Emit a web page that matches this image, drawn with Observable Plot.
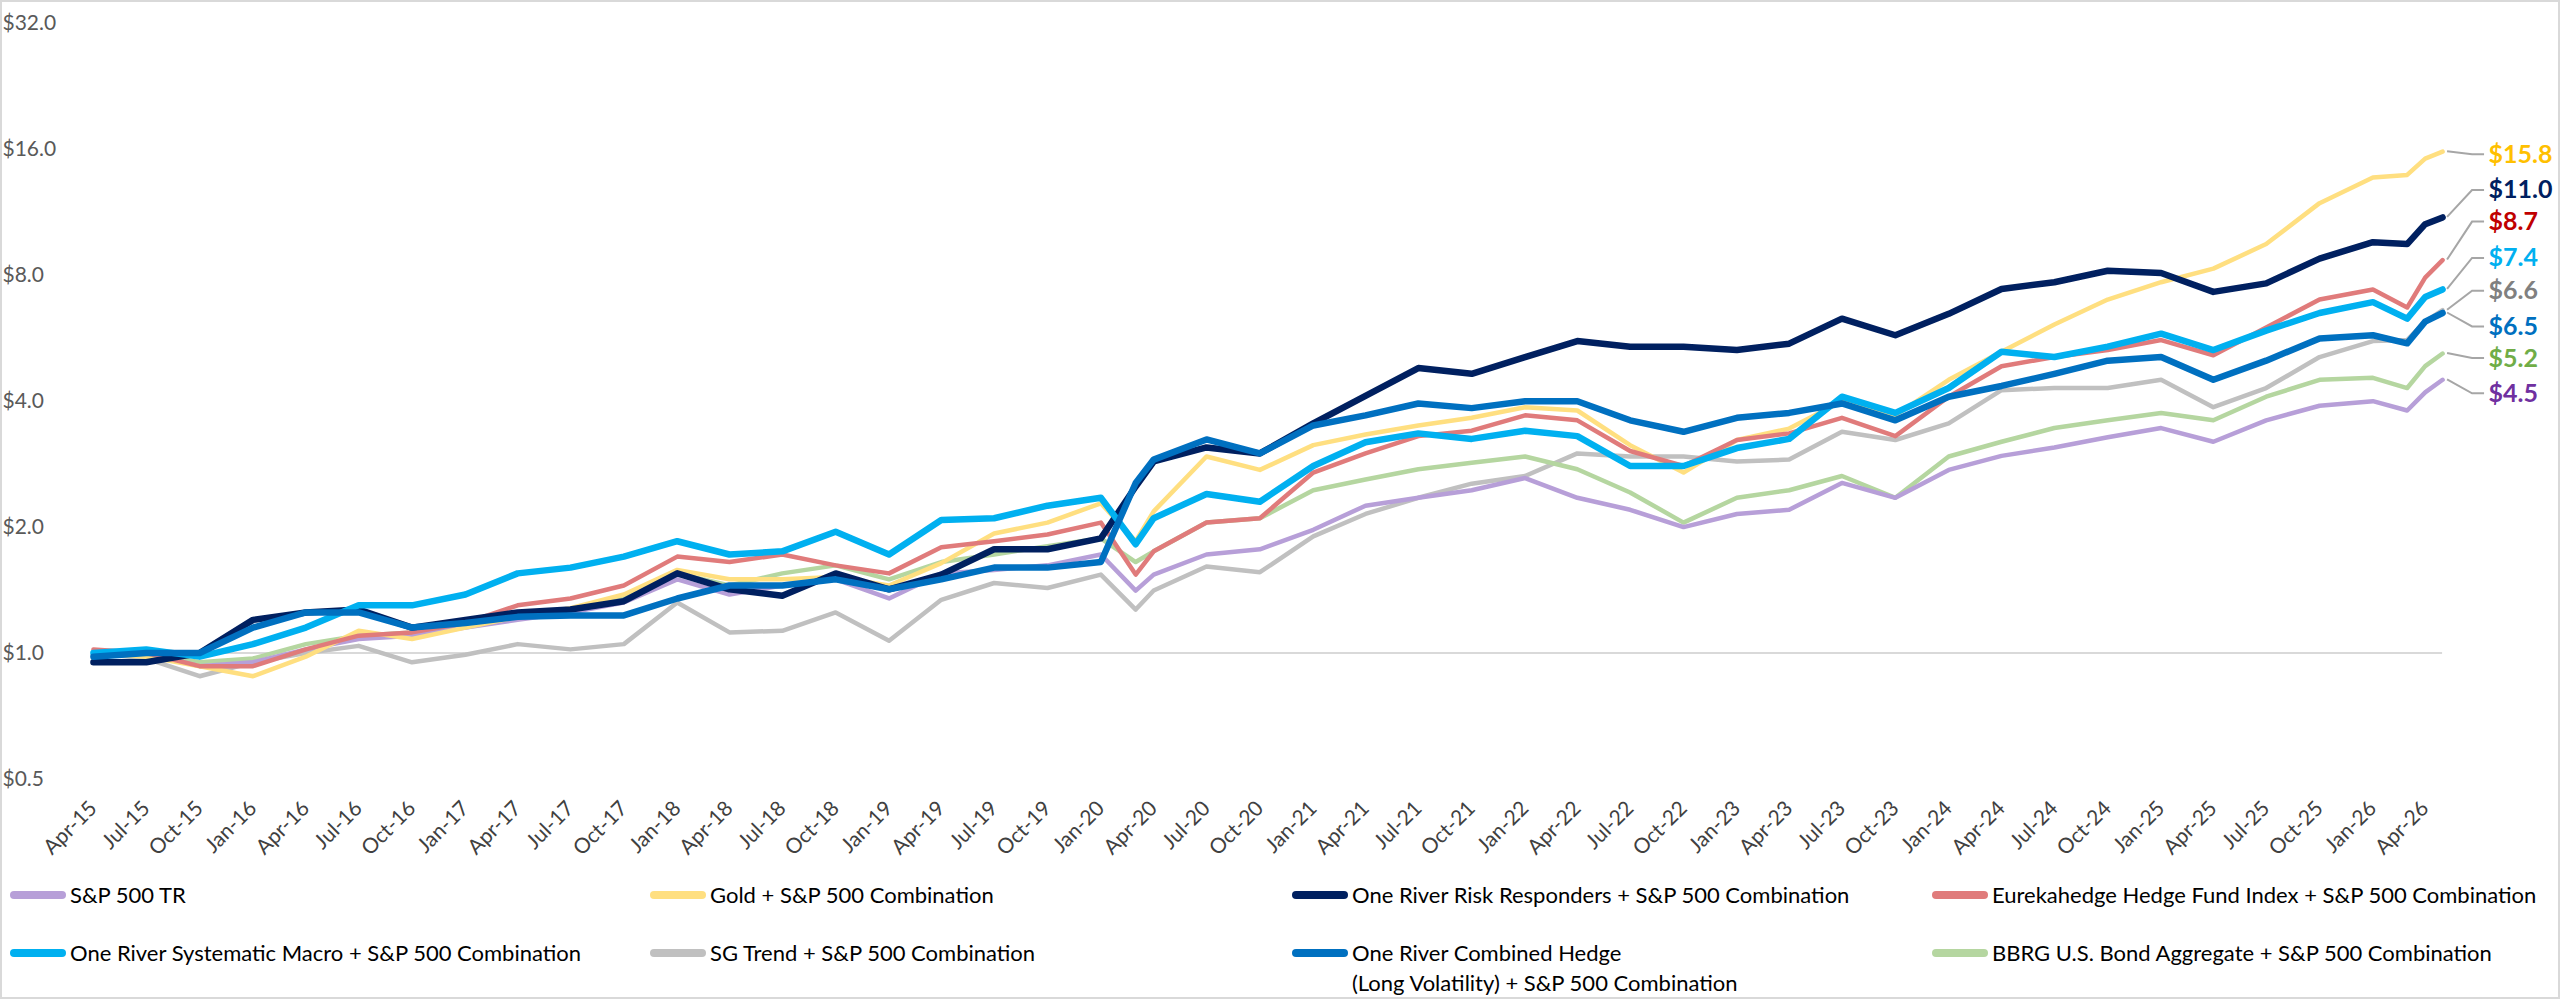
<!DOCTYPE html>
<html><head><meta charset="utf-8">
<script src="https://cdn.jsdelivr.net/npm/d3@7"></script>
<script src="https://cdn.jsdelivr.net/npm/@observablehq/plot@0.6"></script>
<style>
body{margin:0;background:#fff;font-family:Lato,"Liberation Sans",sans-serif;}
#wrap{position:relative;width:2560px;height:999px;box-sizing:border-box;border:2px solid #d9d9d9;overflow:hidden;}
#chart{position:absolute;left:-2px;top:-2px;}
.lg{position:absolute;font-size:22px;color:#000;line-height:30px;white-space:nowrap;}
.sw{position:absolute;width:56px;height:8px;border-radius:4px;}
</style></head>
<body><div id="wrap"><div id="chart"></div><div id="legend"></div></div>
<script>
const dates = ["2015-04","2015-07","2015-10","2016-01","2016-04","2016-07","2016-10","2017-01","2017-04","2017-07","2017-10","2018-01","2018-04","2018-07","2018-10","2019-01","2019-04","2019-07","2019-10","2020-01","2020-03","2020-04","2020-07","2020-10","2021-01","2021-04","2021-07","2021-10","2022-01","2022-04","2022-07","2022-10","2023-01","2023-04","2023-07","2023-10","2024-01","2024-04","2024-07","2024-10","2025-01","2025-04","2025-07","2025-10","2026-01","2026-03","2026-04","2026-05"];
const spx  = [1.0,1.0,0.93,0.95,1.02,1.08,1.1,1.15,1.2,1.25,1.32,1.5,1.38,1.45,1.5,1.35,1.55,1.58,1.62,1.72,1.41,1.54,1.72,1.77,1.97,2.25,2.35,2.45,2.62,2.35,2.2,2.0,2.15,2.2,2.55,2.35,2.74,2.96,3.1,3.28,3.45,3.2,3.6,3.9,4.0,3.8,4.2,4.5];
const gold = [1.0,0.98,0.93,0.88,0.98,1.13,1.08,1.15,1.22,1.28,1.38,1.58,1.5,1.5,1.52,1.45,1.64,1.93,2.05,2.28,1.85,2.18,2.95,2.74,3.14,3.33,3.5,3.65,3.87,3.8,3.14,2.7,3.23,3.44,4.0,3.7,4.5,5.25,6.1,7.0,7.7,8.3,9.5,11.9,13.7,13.9,15.2,15.8];
const rr   = [0.95,0.95,1.0,1.2,1.25,1.27,1.15,1.2,1.25,1.27,1.33,1.55,1.42,1.37,1.55,1.42,1.54,1.77,1.77,1.88,2.5,2.87,3.1,3.0,3.54,4.12,4.8,4.65,5.1,5.57,5.4,5.4,5.3,5.49,6.3,5.75,6.47,7.42,7.7,8.2,8.1,7.3,7.65,8.77,9.6,9.5,10.6,11.0];
const eh   = [1.02,1.0,0.93,0.93,1.02,1.1,1.12,1.18,1.3,1.35,1.45,1.7,1.65,1.72,1.62,1.55,1.79,1.85,1.92,2.05,1.54,1.75,2.05,2.1,2.7,3.0,3.3,3.4,3.7,3.6,3.04,2.8,3.23,3.35,3.65,3.3,4.1,4.85,5.1,5.3,5.6,5.15,6.0,7.0,7.4,6.7,7.9,8.7];
const sm   = [1.0,1.02,0.98,1.05,1.15,1.3,1.3,1.38,1.55,1.6,1.7,1.85,1.72,1.75,1.95,1.72,2.08,2.1,2.25,2.35,1.82,2.1,2.4,2.3,2.8,3.19,3.35,3.25,3.4,3.3,2.8,2.8,3.09,3.25,4.1,3.75,4.3,5.25,5.1,5.4,5.8,5.3,5.9,6.5,6.9,6.3,7.1,7.4];
const sg   = [1.0,0.97,0.88,0.95,1.0,1.04,0.95,0.99,1.05,1.02,1.05,1.32,1.12,1.13,1.25,1.07,1.34,1.47,1.43,1.54,1.27,1.41,1.61,1.56,1.9,2.15,2.35,2.54,2.65,3.0,2.95,2.95,2.87,2.9,3.38,3.23,3.54,4.25,4.3,4.3,4.5,3.87,4.3,5.1,5.57,5.6,6.2,6.6];
const ch   = [0.98,1.0,1.0,1.15,1.25,1.25,1.15,1.18,1.22,1.23,1.23,1.35,1.45,1.45,1.5,1.42,1.5,1.6,1.6,1.65,2.55,2.9,3.24,3.0,3.5,3.7,3.95,3.85,4.0,4.0,3.6,3.38,3.65,3.75,3.95,3.6,4.1,4.35,4.65,5.0,5.1,4.5,5.0,5.65,5.75,5.5,6.2,6.5];
const bb   = [1.0,1.0,0.95,0.97,1.05,1.1,1.12,1.17,1.22,1.27,1.35,1.55,1.45,1.55,1.62,1.5,1.65,1.72,1.8,1.88,1.65,1.75,2.05,2.1,2.45,2.6,2.75,2.85,2.95,2.75,2.42,2.05,2.35,2.45,2.65,2.35,2.95,3.2,3.45,3.6,3.75,3.6,4.1,4.5,4.55,4.3,4.85,5.2];
const endLabels = ["$4.5","$15.8","$11.0","$8.7","$7.4","$6.6","$6.5","$5.2"];
const yTicks = [0.5,1,2,4,8,16,32];

const series = [
 {name:"S&P 500 TR", v:spx, color:"#b79fd8", lab:"#7030a0", w:4.5, dy:14, order:2},
 {name:"Gold + S&P 500 Combination", v:gold, color:"#ffdf80", lab:"#ffc000", w:4.5, dy:3, order:3},
 {name:"One River Risk Responders + S&P 500 Combination", v:rr, color:"#002060", lab:"#002060", w:6.5, dy:-27, order:5},
 {name:"Eurekahedge Hedge Fund Index + S&P 500 Combination", v:eh, color:"#e07b7b", lab:"#c00000", w:4.5, dy:-38, order:4},
 {name:"One River Systematic Macro + S&P 500 Combination", v:sm, color:"#00b0f0", lab:"#00b0f0", w:6.5, dy:-31, order:6},
 {name:"SG Trend + S&P 500 Combination", v:sg, color:"#c0c0c0", lab:"#808080", w:4.5, dy:-19, order:0},
 {name:"One River Combined Hedge\n(Long Volatility) + S&P 500 Combination", v:ch, color:"#0070c0", lab:"#0070c0", w:6.5, dy:14, order:7},
 {name:"BBRG U.S. Bond Aggregate + S&P 500 Combination", v:bb, color:"#b5d6a0", lab:"#70ad47", w:4.5, dy:5, order:1}
];
series.forEach((s,i)=>{ s.label = endLabels[i]; s.data = dates.map((d,j)=>({date:new Date(d+"-01T00:00:00Z"), value:s.v[j]})); });
const drawOrder = [...series].sort((a,b)=>a.order-b.order);

const marks = [Plot.ruleY([1],{stroke:"#d9d9d9",strokeWidth:2})];
drawOrder.forEach(s=>marks.push(Plot.line(s.data,{x:"date",y:"value",stroke:s.color,strokeWidth:s.w,strokeLinejoin:"round",strokeLinecap:"round"})));
series.forEach(s=>marks.push(Plot.text([s.data[s.data.length-1]],{x:"date",y:"value",text:()=>s.label,dx:46,dy:s.dy,textAnchor:"start",fill:s.lab,fontWeight:"bold",fontSize:25})));
marks.push(Plot.axisY({ticks:yTicks,tickFormat:d=>"$"+d.toFixed(1),tickSize:0,textAnchor:"start",dx:-82,fontSize:21,fill:"#595959",label:null}));
marks.push(Plot.axisX({ticks:d3.utcMonth.every(3).range(new Date("2015-04-01T00:00:00Z"),new Date("2026-05-01T00:00:00Z")),tickFormat:d3.utcFormat("%b-%y"),tickRotate:-45,tickSize:0,tickPadding:26,fontSize:21,fill:"#404040",label:null}));

const chart = Plot.plot({
  width:2560, height:870, marginLeft:93, marginRight:116, marginTop:23, marginBottom:91,
  style:{fontFamily:"Lato, 'Liberation Sans', sans-serif", background:"transparent", overflow:"visible"},
  x:{type:"utc", domain:[new Date("2015-04-01T00:00:00Z"), new Date("2026-05-01T00:00:00Z")], label:null},
  y:{type:"log", base:2, domain:[0.5,32], label:null},
  marks
});
document.getElementById("chart").appendChild(chart);

const xs = chart.scale("x"), ys = chart.scale("y");
const svg = d3.select(chart);
series.forEach(s=>{
  const last = s.data[s.data.length-1];
  const px = xs.apply(last.date), py = ys.apply(last.value);
  svg.append("path").attr("d",`M${px+5},${py}L${px+30},${py+s.dy}L${px+42},${py+s.dy}`)
     .attr("fill","none").attr("stroke","#a6a6a6").attr("stroke-width",2);
});

const cols=[8,648,1290,1930], rows=[893,951];
const lg=document.getElementById("legend");
series.forEach((s,i)=>{
  const cx=cols[i%4], cy=rows[Math.floor(i/4)];
  const sw=document.createElement("div"); sw.className="sw"; sw.style.background=s.color;
  sw.style.left=cx+"px"; sw.style.top=(cy-4)+"px"; lg.appendChild(sw);
  const t=document.createElement("div"); t.className="lg";
  t.style.left=(cx+60)+"px"; t.style.top=(cy-15)+"px";
  t.innerHTML=s.name.replace("\n","<br>"); lg.appendChild(t);
});
</script></body></html>
